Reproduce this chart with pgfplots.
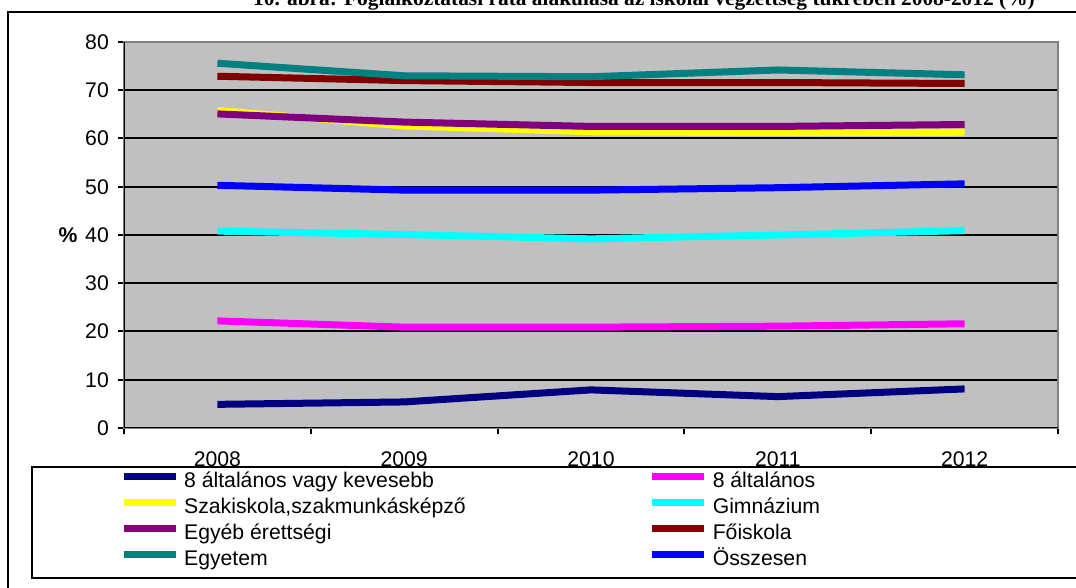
\documentclass[border=0pt]{standalone}
\usepackage{fontspec}
\setmainfont{Liberation Sans}
\newfontfamily\titlefont{Liberation Serif}
\usepackage{pgfplots}
\pgfplotsset{compat=1.18}

\definecolor{plotbg}{HTML}{C0C0C0}
\definecolor{cNavy}{HTML}{000080}
\definecolor{cMagenta}{HTML}{FF00FF}
\definecolor{cYellow}{HTML}{FFFF00}
\definecolor{cCyan}{HTML}{00FFFF}
\definecolor{cPurple}{HTML}{800080}
\definecolor{cDarkred}{HTML}{800000}
\definecolor{cTeal}{HTML}{008080}
\definecolor{cBlue}{HTML}{0000FF}

\newcommand{\chartfont}{\fontsize{21.2}{25}\selectfont}

\begin{document}
\begin{tikzpicture}
\useasboundingbox (0pt,0pt) rectangle (1076pt,588pt);
\clip (0pt,0pt) rectangle (1076pt,588pt);
% outer frame and cut title
\draw[line width=2pt] (8pt,-20pt) -- (8pt,576pt) -- (1100pt,576pt);
\node[anchor=base west, inner sep=0pt, font=\titlefont\bfseries\fontsize{21.4}{24}\selectfont]
  at (253pt,582pt) {10. ábra: Foglalkoztatási ráta alakulása az iskolai végzettség tükrében 2008-2012 (\%)};
% legend frame
\draw[line width=2pt] (1100pt,121pt) -- (32pt,121pt) -- (32pt,10pt) -- (1100pt,10pt);

\begin{axis}[
  at={(124pt,160pt)}, anchor=south west,
  scale only axis, width=934pt, height=386pt,
  xmin=-0.5, xmax=4.5, ymin=0, ymax=80,
  axis background/.style={fill=plotbg},
  axis line style={draw=gray, line width=2pt},
  xtick={0,1,2,3,4},
  xticklabels={2008,2009,2010,2011,2012},
  minor xtick={-0.5,0.5,1.5,2.5,3.5,4.5},
  ytick={0,10,...,80},
  tick align=outside,
  xtick pos=bottom, ytick pos=left,
  major tick length=6pt, minor tick length=6pt,
  x tick style={draw=none},
  minor x tick style={draw=black, line width=2pt},
  y tick style={draw=black, line width=2pt},
  ymajorgrids, grid style={black, line width=2pt},
  tick label style={font=\chartfont},
  /pgf/number format/assume math mode=true,
  xticklabel style={inner sep=0pt, yshift=-18pt},
  yticklabel style={inner sep=0pt, xshift=-9pt},
  ylabel={\textbf{\%}},
  ylabel style={at={(axis description cs:-0.06,0.5)}, rotate=-90, anchor=center, font=\chartfont},
  legend columns=2,
  legend cell align=left,
  legend style={at={(axis description cs:-0.0043,-0.114)}, anchor=north west,
    draw=none, fill=none, inner sep=0pt, font=\chartfont,
    row sep=6pt,
    nodes={inner sep=0pt, text height=15pt, text depth=5pt},
    /tikz/every odd column/.append style={column sep=5pt},
    /tikz/every even column/.append style={column sep=183pt}},
  legend image code/.code={\draw[#1, line width=7pt] (0pt,5.5pt) -- (52pt,5.5pt);},
  every axis plot/.append style={line width=7pt},
]
\addplot[cNavy] coordinates {(0,4.9) (1,5.4) (2,7.9) (3,6.5) (4,8.1)};
\addplot[cMagenta] coordinates {(0,22.2) (1,20.9) (2,20.9) (3,21.1) (4,21.6)};
\addplot[cYellow] coordinates {(0,65.8) (1,62.6) (2,61.4) (3,61.2) (4,61.3)};
\addplot[cCyan] coordinates {(0,40.8) (1,40.1) (2,39.2) (3,40.0) (4,40.9)};
\addplot[cPurple] coordinates {(0,65.1) (1,63.4) (2,62.5) (3,62.5) (4,62.9)};
\addplot[cDarkred] coordinates {(0,72.9) (1,72.0) (2,71.6) (3,71.6) (4,71.4)};
\addplot[cTeal] coordinates {(0,75.6) (1,73.0) (2,72.8) (3,74.2) (4,73.2)};
\addplot[cBlue] coordinates {(0,50.3) (1,49.3) (2,49.3) (3,49.8) (4,50.6)};
\legend{8 általános vagy kevesebb, 8 általános, {Szakiskola,szakmunkásképző}, Gimnázium,
  Egyéb érettségi, Főiskola, Egyetem, Összesen}
\draw[black, line width=2pt] (rel axis cs:0,1) -- (rel axis cs:0,0) -- (rel axis cs:1,0);
\end{axis}
\end{tikzpicture}
\end{document}
